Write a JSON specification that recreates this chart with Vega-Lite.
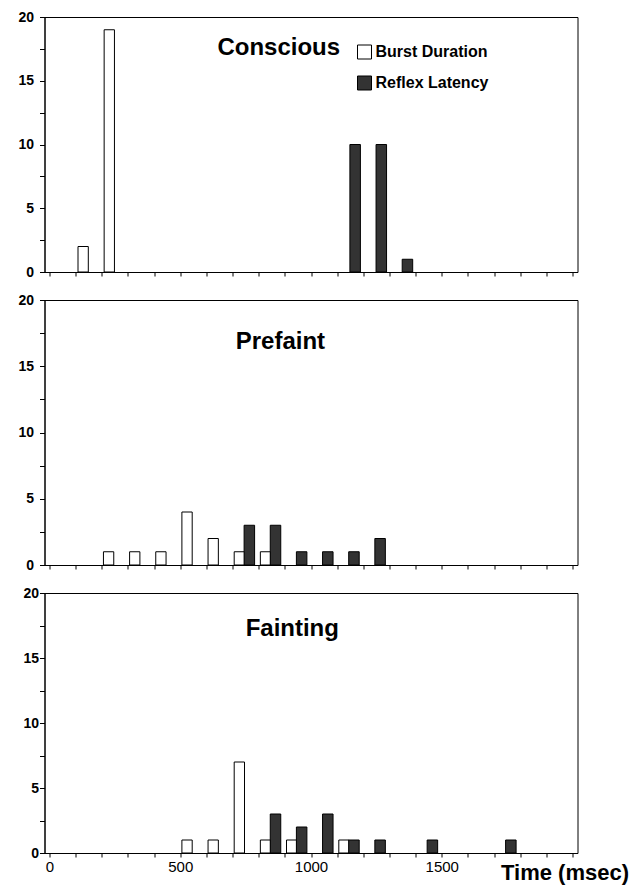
{
  "$schema": "https://vega.github.io/schema/vega-lite/v6.json",
  "background": "white",
  "padding": {"left": 16.5, "top": 9, "right": 5, "bottom": 5},
  "datasets": {
    "bars": [
      {"panel": "Conscious", "series": "Burst Duration", "time": 100, "count": 2},
      {"panel": "Conscious", "series": "Burst Duration", "time": 200, "count": 19},
      {"panel": "Conscious", "series": "Reflex Latency", "time": 1100, "count": 10},
      {"panel": "Conscious", "series": "Reflex Latency", "time": 1200, "count": 10},
      {"panel": "Conscious", "series": "Reflex Latency", "time": 1300, "count": 1},
      {"panel": "Prefaint", "series": "Burst Duration", "time": 200, "count": 1},
      {"panel": "Prefaint", "series": "Burst Duration", "time": 300, "count": 1},
      {"panel": "Prefaint", "series": "Burst Duration", "time": 400, "count": 1},
      {"panel": "Prefaint", "series": "Burst Duration", "time": 500, "count": 4},
      {"panel": "Prefaint", "series": "Burst Duration", "time": 600, "count": 2},
      {"panel": "Prefaint", "series": "Burst Duration", "time": 700, "count": 1},
      {"panel": "Prefaint", "series": "Burst Duration", "time": 800, "count": 1},
      {"panel": "Prefaint", "series": "Reflex Latency", "time": 700, "count": 3},
      {"panel": "Prefaint", "series": "Reflex Latency", "time": 800, "count": 3},
      {"panel": "Prefaint", "series": "Reflex Latency", "time": 900, "count": 1},
      {"panel": "Prefaint", "series": "Reflex Latency", "time": 1000, "count": 1},
      {"panel": "Prefaint", "series": "Reflex Latency", "time": 1100, "count": 1},
      {"panel": "Prefaint", "series": "Reflex Latency", "time": 1200, "count": 2},
      {"panel": "Fainting", "series": "Burst Duration", "time": 500, "count": 1},
      {"panel": "Fainting", "series": "Burst Duration", "time": 600, "count": 1},
      {"panel": "Fainting", "series": "Burst Duration", "time": 700, "count": 7},
      {"panel": "Fainting", "series": "Burst Duration", "time": 800, "count": 1},
      {"panel": "Fainting", "series": "Burst Duration", "time": 900, "count": 1},
      {"panel": "Fainting", "series": "Burst Duration", "time": 1100, "count": 1},
      {"panel": "Fainting", "series": "Reflex Latency", "time": 800, "count": 3},
      {"panel": "Fainting", "series": "Reflex Latency", "time": 900, "count": 2},
      {"panel": "Fainting", "series": "Reflex Latency", "time": 1000, "count": 3},
      {"panel": "Fainting", "series": "Reflex Latency", "time": 1100, "count": 1},
      {"panel": "Fainting", "series": "Reflex Latency", "time": 1200, "count": 1},
      {"panel": "Fainting", "series": "Reflex Latency", "time": 1400, "count": 1},
      {"panel": "Fainting", "series": "Reflex Latency", "time": 1700, "count": 1}
    ],
    "labels": [
      {"panel": "Conscious", "time": 642, "count": 17.0},
      {"panel": "Prefaint", "time": 712, "count": 16.3},
      {"panel": "Fainting", "time": 750, "count": 16.7}
    ]
  },
  "spacing": 28,
  "bounds": "flush",
  "resolve": {"scale": {"fill": "independent"}, "legend": {"fill": "independent"}},
  "vconcat": [
    {
      "width": 533, "height": 255,
      "encoding": {
        "x": {"field": "time", "type": "quantitative", "title": null, "scale": {"domain": [0, 2000], "nice": false, "zero": false},
              "axis": {"values": [0,100,200,300,400,500,600,700,800,900,1000,1100,1200,1300,1400,1500,1600,1700,1800,1900,2000], "labels": false, "tickSize": 4, "title": null}},
        "y": {"field": "count", "type": "quantitative", "title": null, "scale": {"domain": [0, 20], "nice": false},
              "axis": {"values": [0,2.5,5,7.5,10,12.5,15,17.5,20], "labelExpr": "datum.value % 5 === 0 ? datum.label : ''", "labelOverlap": false, "tickSize": 5, "labelPadding": 6, "labelFontSize": 14, "labelFontWeight": "bold", "title": null}}
      },
      "layer": [
        {
          "data": {"name": "bars"},
          "transform": [{"filter": "datum.panel === 'Conscious' && datum.series === 'Burst Duration'"}],
          "mark": {"type": "bar", "width": 10.3, "xOffset": 7.5, "stroke": "black", "strokeWidth": 1},
          "encoding": {
            "fill": {"datum": "Burst Duration", "type": "nominal",
                     "scale": {"domain": ["Burst Duration", "Reflex Latency"], "range": ["white", "#333333"]},
                     "legend": {"orient": "none", "legendX": 312, "legendY": 27, "title": null, "symbolType": "square", "symbolSize": 196, "symbolStrokeColor": "black", "symbolStrokeWidth": 1, "labelFontSize": 16, "labelFontWeight": "bold", "labelColor": "black", "labelOffset": 3, "rowPadding": 13}}
          }
        },
        {
          "data": {"name": "bars"},
          "transform": [{"filter": "datum.panel === 'Conscious' && datum.series === 'Reflex Latency'"}],
          "mark": {"type": "bar", "width": 10.5, "xOffset": 18, "stroke": "black", "strokeWidth": 1},
          "encoding": {
            "fill": {"datum": "Reflex Latency", "type": "nominal"}
          }
        },
        {
          "data": {"name": "labels"},
          "transform": [{"filter": "datum.panel === 'Conscious'"}],
          "mark": {"type": "text", "align": "left", "baseline": "alphabetic", "fontSize": 24, "fontWeight": "bold", "color": "black"},
          "encoding": {"text": {"field": "panel"}}
        }
      ]
    },
    {
      "width": 533, "height": 265,
      "encoding": {
        "x": {"field": "time", "type": "quantitative", "title": null, "scale": {"domain": [0, 2000], "nice": false, "zero": false},
              "axis": {"values": [0,100,200,300,400,500,600,700,800,900,1000,1100,1200,1300,1400,1500,1600,1700,1800,1900,2000], "labels": false, "tickSize": 4, "title": null}},
        "y": {"field": "count", "type": "quantitative", "title": null, "scale": {"domain": [0, 20], "nice": false},
              "axis": {"values": [0,2.5,5,7.5,10,12.5,15,17.5,20], "labelExpr": "datum.value % 5 === 0 ? datum.label : ''", "labelOverlap": false, "tickSize": 5, "labelPadding": 6, "labelFontSize": 14, "labelFontWeight": "bold", "title": null}}
      },
      "layer": [
        {
          "data": {"name": "bars"},
          "transform": [{"filter": "datum.panel === 'Prefaint' && datum.series === 'Burst Duration'"}],
          "mark": {"type": "bar", "width": 10.3, "xOffset": 6.8, "stroke": "black", "strokeWidth": 1, "fill": "white"}
        },
        {
          "data": {"name": "bars"},
          "transform": [{"filter": "datum.panel === 'Prefaint' && datum.series === 'Reflex Latency'"}],
          "mark": {"type": "bar", "width": 10.5, "xOffset": 16.8, "stroke": "black", "strokeWidth": 1, "fill": "#333333"}
        },
        {
          "data": {"name": "labels"},
          "transform": [{"filter": "datum.panel === 'Prefaint'"}],
          "mark": {"type": "text", "align": "left", "baseline": "alphabetic", "fontSize": 24, "fontWeight": "bold", "color": "black"},
          "encoding": {"text": {"field": "panel"}}
        }
      ]
    },
    {
      "width": 533, "height": 260,
      "encoding": {
        "x": {"field": "time", "type": "quantitative", "title": "Time (msec)", "scale": {"domain": [0, 2000], "nice": false, "zero": false},
              "axis": {"values": [0,100,200,300,400,500,600,700,800,900,1000,1100,1200,1300,1400,1500,1600,1700,1800,1900,2000],
                       "labelExpr": "datum.value % 500 === 0 && datum.value < 2000 ? datum.label : ''", "labelOverlap": false,
                       "format": "d", "tickSize": 4, "labelPadding": 2, "labelFontSize": 15, "labelFontWeight": "normal",
                       "title": "Time (msec)", "titleFontSize": 22, "titleFontWeight": "bold", "titleAnchor": null,
                       "titleX": 584, "titleY": 26, "titleAlign": "right", "titleBaseline": "alphabetic", "titleColor": "black"}},
        "y": {"field": "count", "type": "quantitative", "title": null, "scale": {"domain": [0, 20], "nice": false},
              "axis": {"values": [0,2.5,5,7.5,10,12.5,15,17.5,20], "labelExpr": "datum.value % 5 === 0 ? datum.label : ''", "labelOverlap": false, "tickSize": 5, "labelPadding": 1, "labelFontSize": 14, "labelFontWeight": "bold", "title": null}}
      },
      "layer": [
        {
          "data": {"name": "bars"},
          "transform": [{"filter": "datum.panel === 'Fainting' && datum.series === 'Burst Duration'"}],
          "mark": {"type": "bar", "width": 10.3, "xOffset": 6.8, "stroke": "black", "strokeWidth": 1, "fill": "white"}
        },
        {
          "data": {"name": "bars"},
          "transform": [{"filter": "datum.panel === 'Fainting' && datum.series === 'Reflex Latency'"}],
          "mark": {"type": "bar", "width": 10.5, "xOffset": 16.8, "stroke": "black", "strokeWidth": 1, "fill": "#333333"}
        },
        {
          "data": {"name": "labels"},
          "transform": [{"filter": "datum.panel === 'Fainting'"}],
          "mark": {"type": "text", "align": "left", "baseline": "alphabetic", "fontSize": 24, "fontWeight": "bold", "color": "black"},
          "encoding": {"text": {"field": "panel"}}
        }
      ]
    }
  ],
  "config": {
    "font": "Liberation Sans",
    "view": {"stroke": "black", "strokeWidth": 1},
    "axis": {"domainColor": "black", "domainWidth": 1, "tickColor": "black", "tickWidth": 1, "labelColor": "black", "grid": false},
    "text": {"font": "Liberation Sans"}
  }
}
